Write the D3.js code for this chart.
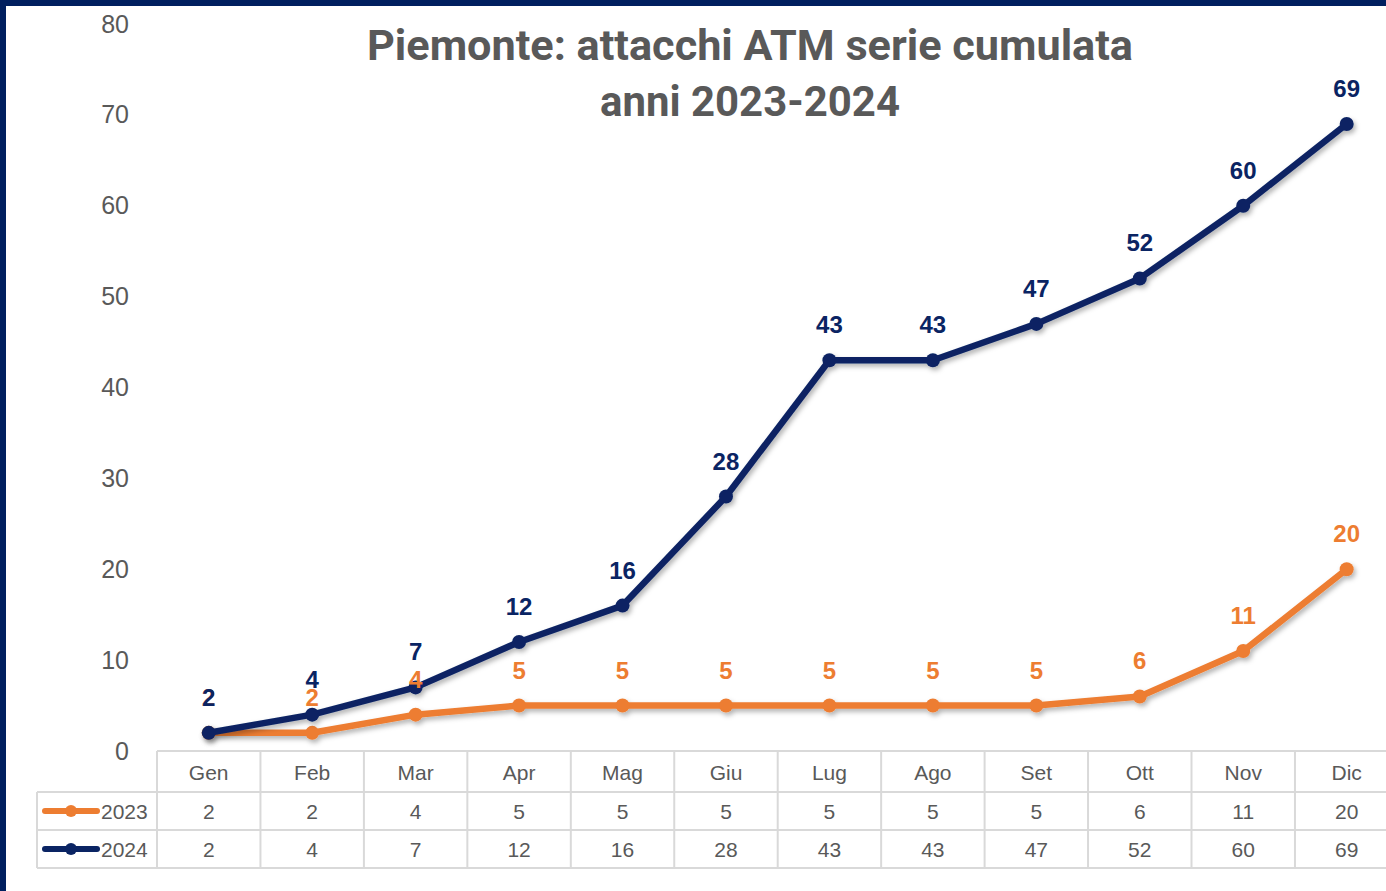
<!DOCTYPE html>
<html>
<head>
<meta charset="utf-8">
<script src="https://cdn.jsdelivr.net/npm/d3@7"></script>
<style>
  body { margin: 0; background: #fff; }
  svg { display: block; }
</style>
</head>
<body>
<svg id="chart" width="1386" height="891"></svg>
<script>
// values
var months = ["Gen", "Feb", "Mar", "Apr", "Mag", "Giu", "Lug", "Ago", "Set", "Ott", "Nov", "Dic"];
var values2023 = [2, 2, 4, 5, 5, 5, 5, 5, 5, 6, 11, 20];
var values2024 = [2, 4, 7, 12, 16, 28, 43, 43, 47, 52, 60, 69];
var yTicks = [0, 10, 20, 30, 40, 50, 60, 70, 80];
var titleLines = ["Piemonte: attacchi ATM serie cumulata", "anni 2023-2024"];

var series = [
  { name: "2023", values: values2023, color: "#ED7D31" },
  { name: "2024", values: values2024, color: "#0A2463" }
];

var svg = d3.select("#chart");
var grey = "#595959";
var gridGrey = "#D9D9D9";

// frame (navy edges left and top)
svg.append("rect").attr("x", 0).attr("y", 0).attr("width", 1386).attr("height", 6).attr("fill", "#001F5F");
svg.append("rect").attr("x", 0).attr("y", 0).attr("width", 6).attr("height", 891).attr("fill", "#001F5F");

// shadow for lines
var defs = svg.append("defs");
var f = defs.append("filter").attr("id", "shadow").attr("x", "-10%").attr("y", "-10%").attr("width", "120%").attr("height", "130%");
f.append("feDropShadow").attr("dx", 2).attr("dy", 3).attr("stdDeviation", 2.5)
  .attr("flood-color", "#000").attr("flood-opacity", 0.3);

var x = d3.scaleBand().domain(months).range([157, 157 + 12 * 103.45]).padding(0);
var y = d3.scaleLinear().domain([0, 80]).range([751, 24]);
var cx = function(m) { return x(m) + x.bandwidth() / 2; };

// title
svg.selectAll("text.title")
  .data(titleLines)
  .enter().append("text")
  .attr("class", "title")
  .attr("x", 750)
  .attr("y", (d, i) => 60 + i * 56)
  .attr("text-anchor", "middle")
  .attr("font-family", "Roboto, sans-serif")
  .attr("font-weight", "bold")
  .attr("font-size", 42)
  .attr("fill", grey)
  .attr("textLength", (d, i) => i == 0 ? 766 : 300)
  .attr("lengthAdjust", "spacingAndGlyphs")
  .text(d => d);

// y axis labels
var yAxis = svg.append("g")
  .attr("transform", "translate(129,0)")
  .call(d3.axisLeft(y).tickValues(yTicks).tickSize(0).tickPadding(0));
yAxis.select(".domain").remove();
yAxis.selectAll("text")
  .attr("font-family", "Liberation Sans, Arial, sans-serif")
  .attr("font-size", 25)
  .attr("fill", grey);

// lines
var line = d3.line()
  .x((d, i) => cx(months[i]))
  .y(d => y(d));

var gSeries = svg.selectAll("g.series")
  .data(series)
  .enter().append("g")
  .attr("class", "series")
  .attr("filter", "url(#shadow)");

gSeries.append("path")
  .attr("d", d => line(d.values))
  .attr("fill", "none")
  .attr("stroke", d => d.color)
  .attr("stroke-width", 6.5)
  .attr("stroke-linejoin", "round");

gSeries.selectAll("circle")
  .data(d => d.values.map(v => ({ v: v, color: d.color })))
  .enter().append("circle")
  .attr("cx", (d, i) => cx(months[i]))
  .attr("cy", d => y(d.v))
  .attr("r", 7)
  .attr("fill", d => d.color);

// data labels
series.forEach(function(s) {
  svg.append("g").selectAll("text")
    .data(s.values)
    .enter().append("text")
    .attr("x", (d, i) => cx(months[i]))
    .attr("y", d => y(d) - 27)
    .attr("text-anchor", "middle")
    .attr("font-family", "Liberation Sans, Arial, sans-serif")
    .attr("font-weight", "bold")
    .attr("font-size", 24)
    .attr("fill", s.color)
    .text(d => d);
});

// data table
var rowTops = [751, 792, 830, 868];
var table = svg.append("g")
  .attr("stroke", gridGrey)
  .attr("stroke-width", 2);

// horizontal lines
table.append("line").attr("x1", 157).attr("x2", 1386).attr("y1", rowTops[0]).attr("y2", rowTops[0]);
[1, 2, 3].forEach(function(r) {
  table.append("line").attr("x1", 37).attr("x2", 1386).attr("y1", rowTops[r]).attr("y2", rowTops[r]);
});
// vertical lines
table.append("line").attr("x1", 37).attr("x2", 37).attr("y1", rowTops[1]).attr("y2", rowTops[3]);
months.forEach(function(m) {
  table.append("line").attr("x1", x(m)).attr("x2", x(m)).attr("y1", rowTops[0]).attr("y2", rowTops[3]);
});

// header
svg.append("g").selectAll("text")
  .data(months)
  .enter().append("text")
  .attr("x", d => cx(d))
  .attr("y", (rowTops[0] + rowTops[1]) / 2 + 8)
  .attr("text-anchor", "middle")
  .attr("font-family", "Liberation Sans, Arial, sans-serif")
  .attr("font-size", 21)
  .attr("fill", grey)
  .text(d => d);

series.forEach(function(s, r) {
  var mid = (rowTops[r + 1] + rowTops[r + 2]) / 2;
  var g = svg.append("g");
  g.selectAll("text")
    .data(s.values)
    .enter().append("text")
    .attr("x", (d, i) => cx(months[i]))
    .attr("y", mid + 8)
    .attr("text-anchor", "middle")
    .attr("font-family", "Liberation Sans, Arial, sans-serif")
    .attr("font-size", 21)
    .attr("fill", grey)
    .text(d => d);
  // legend key
  g.append("line")
    .attr("x1", 45).attr("x2", 97).attr("y1", mid).attr("y2", mid)
    .attr("stroke", s.color).attr("stroke-width", 6).attr("stroke-linecap", "round");
  g.append("circle").attr("cx", 71).attr("cy", mid).attr("r", 6).attr("fill", s.color);
  g.append("text")
    .attr("x", 101).attr("y", mid + 8)
    .attr("font-family", "Liberation Sans, Arial, sans-serif")
    .attr("font-size", 21)
    .attr("fill", grey)
    .text(s.name);
});
</script>
</body>
</html>
